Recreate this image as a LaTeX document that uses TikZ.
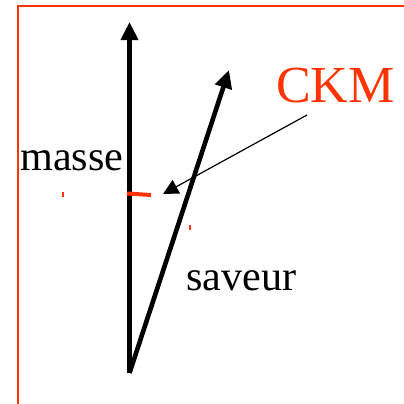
\documentclass[tikz,border=0pt]{standalone}
\usepackage{fontspec}
\setmainfont{Liberation Serif}
\usepackage{tikz}
\usetikzlibrary{arrows.meta}
\definecolor{ckmred}{RGB}{255,51,0}

\begin{document}
\begin{tikzpicture}[x=0.025cm, y=-0.025cm, >=Stealth,
    vecarrow/.style={line width=0.115cm, -{Triangle[length=0.45cm, width=0.42cm]}},
    label/.style={anchor=base west, inner sep=0pt, font=\fontsize{30}{34}\selectfont}]
  \useasboundingbox (0,0) rectangle (404,404);
  % cadre
  \draw[ckmred, line width=0.05cm] (18,404) -- (18,6) -- (404,6);

  \coordinate (origin) at (129.5,373);
  \coordinate (masstop) at (129.5,22);
  \coordinate (flavtop) at (229,70);
  \coordinate (angle) at (163,194);
  \coordinate (ckmfoot) at (307,115);

  \draw[vecarrow] (origin) -- (masstop);
  \draw[vecarrow] (origin) -- (flavtop);
  \draw[ckmred, line width=0.1cm] (127,193.5) -- (151,195);

  \node[label] (masse) at (20,170) {masse};
  \node[label] (saveur) at (186,290) {saveur};
  \node[label, text=ckmred, font=\fontsize{37}{42}\selectfont] (ckm) at (276,102) {CKM};

  \draw[line width=0.03cm, -{Triangle[length=0.38cm, width=0.38cm]}] (ckmfoot) -- (angle);

  % petites marques
  \draw[ckmred, line width=0.03cm] (63,192) -- (63,197);
  \draw[ckmred, line width=0.03cm] (190,225) -- (190,230);
\end{tikzpicture}
\end{document}
